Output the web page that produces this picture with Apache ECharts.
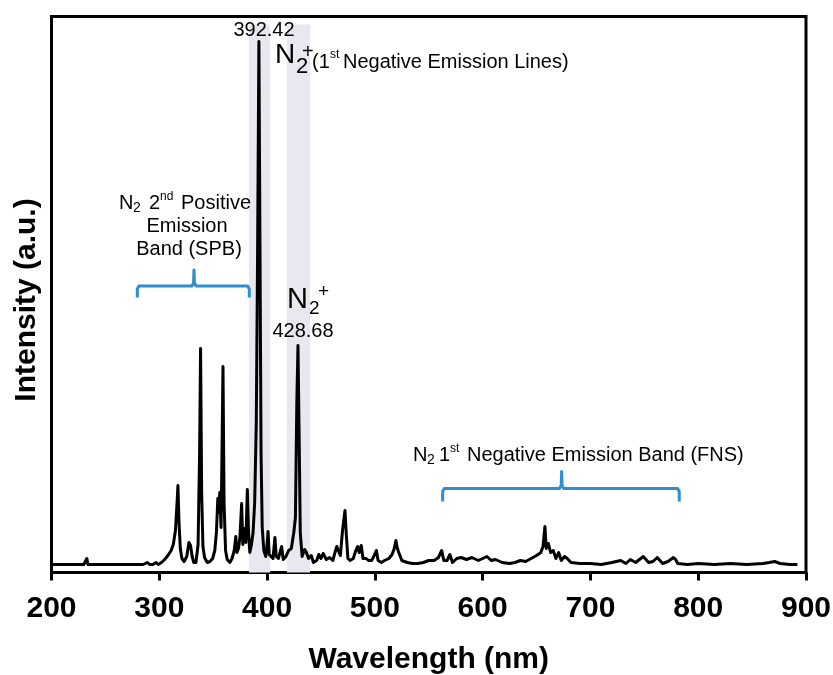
<!DOCTYPE html>
<html>
<head>
<meta charset="utf-8">
<script src="https://cdn.jsdelivr.net/npm/echarts@6/dist/echarts.min.js"></script>
<style>
html,body{margin:0;padding:0;background:#fff;}
#chart{width:833px;height:675px;}
</style>
</head>
<body>
<div id="chart"></div>
<script>
// Wavelength (nm)
var wavelength = [200,215,230,231.8,232.8,233.8,250,270,285,289,291,294,297,299,302,305,308,311,313,315,316.5,317.3,318.3,319.5,321,323,325.5,327.5,329,330.5,332,334,336,337.4,338.3,339.3,340.5,342,344.5,347,349.5,351.5,353,354.3,355.2,356.1,357.3,358.4,359.1,360.1,361.5,363,365.5,367.5,369.5,371,372,373.5,374.8,376.4,377.5,378.5,379.4,380.3,381.7,382.8,384,385.5,387,388.5,390,391.2,392.42,393.4,394.4,395.5,397,398.8,400.2,400.9,402,403.8,405.5,407.3,408.5,410.5,413.5,415,417.5,420,422.5,424.8,426.3,427.6,428.68,429.7,430.8,432.5,434.8,436.5,438.5,441,443,446,448,450,452,455,458,461,463,464.7,466,468,470,472.3,473.5,475,477,480,482,484,485.5,487.4,489,492,494,497,499,501.4,503,506,509,513,516,518,519.5,520.5,521.5,523,525,530,535,540,545,550,555,559,562,564,567,569.6,572,576,580,585,590,596,600,604,608,612,618,625,630,635,640,645,650,654,656,657.8,659,661,663,665.5,668,670.5,673,676,678.5,682,690,700,710,720,728,733,737,742,749,754,758,762,767,772,777,779,781,790,800,815,830,845,860,866,871,876,885,892];
// Intensity (a.u.)
var intensity = [8,8,8,8,14,8,8,8,8,10,8,8,10,8,10,13,17,22,28,42,70,87,50,24,14,11,16,30,27,16,10,10,28,120,224,80,26,15,10,11,14,22,40,74,60,80,45,140,206,70,22,13,10,14,22,36,20,24,35,69,28,38,44,30,83,40,20,28,40,70,150,320,531,330,120,45,22,16,30,41,18,20,14,35,16,14,26,13,16,22,24,40,55,170,227,140,40,16,23,20,14,17,10,12,18,14,19,13,15,12,20,26,22,17,42,62,38,14,12,14,21,26,20,27,14,14,12,12,16,22,12,10,12,14,18,24,32,26,22,20,12,10,9,9,10,12,12,15,22,12,12,18,10,14,15,13,15,12,14,16,12,13,10,9,10,12,11,14,17,20,26,46,24,29,20,22,14,20,12,16,14,10,9,9,8,10,12,9,13,10,16,10,11,15,9,11,15,13,9,8,9,8,9,8,9,10,11,9,8,8];
// x-axis ticks
var xTicks = [200,300,400,500,600,700,800,900];
// shaded emission-line bands (nm)
var bandRanges = [[383.2,402.7],[418.5,439.8]];
// brackets: [left nm, centre nm, right nm, end level, arm level, tip level]
var spbBracket = [279.6,332.2,383.5,275,286.5,302.5];
var fnsBracket = [562.9,673.3,782.4,71,84,101];

function bracketData(b){
  var L=b[0],C=b[1],R=b[2],vb=b[3],vh=b[4],vt=b[5];
  return [[L,vb],[L,vh-3],[L+1.5,vh],[C-2,vh],[C-0.4,vh+3],[C,vt],[C+0.4,vh+3],[C+2,vh],[R-1.5,vh],[R,vh-3],[R,vb]];
}
var spectrum = wavelength.map(function(w,i){return [w,intensity[i]];});
var FF = '"Liberation Sans", Arial, Helvetica, sans-serif';
function T(x,y,s,size,opt){
  opt = opt||{};
  return {type:'text', x:x, y:y, rotation:opt.rot||0, z:100,
    style:{text:s, font:(opt.bold?'bold ':'')+size+'px '+FF, fill:'#000',
      align:opt.align||'left', verticalAlign:'middle'}};
}
var chart = echarts.init(document.getElementById('chart'), null, {renderer:'canvas'});
var option = {
  animation:false,
  backgroundColor:'#fff',
  grid:{left:51.5,right:27,top:16.5,bottom:102.5,containLabel:false,outerBoundsMode:'none',
    show:true,borderColor:'#000',borderWidth:3,backgroundColor:'transparent'},
  xAxis:{type:'value',min:xTicks[0],max:xTicks[xTicks.length-1],interval:100,
    axisLine:{show:true,onZero:false,lineStyle:{color:'#000',width:3}},
    axisTick:{show:true,inside:false,length:8,lineStyle:{color:'#000',width:3}},
    axisLabel:{color:'#000',fontSize:30,fontWeight:'bold',fontFamily:FF,margin:21},
    splitLine:{show:false},
    name:'Wavelength (nm)',nameLocation:'middle',nameGap:72,
    nameTextStyle:{color:'#000',fontSize:30,fontWeight:'bold',fontFamily:FF}},
  yAxis:{type:'value',min:0,max:556,
    axisLine:{show:true,lineStyle:{color:'#000',width:3}},
    axisTick:{show:false},axisLabel:{show:false},splitLine:{show:false}},
  series:[
    {type:'line',data:spectrum,symbol:'none',z:3,
     lineStyle:{color:'#000',width:3,join:'round'},
     markArea:{silent:true,itemStyle:{color:'#e9e7ef'},
       data:bandRanges.map(function(r){return [{xAxis:r[0],yAxis:0},{xAxis:r[1],yAxis:548}];})}},
    {type:'line',data:bracketData(spbBracket),symbol:'none',z:4,
     lineStyle:{color:'#2f8dd0',width:3,join:'round'}},
    {type:'line',data:bracketData(fnsBracket),symbol:'none',z:4,
     lineStyle:{color:'#2f8dd0',width:3,join:'round'}}
  ],
  graphic:[
    T(27,300,'Intensity (a.u.)',30,{bold:true,align:'center',rot:Math.PI/2}),
    // 392.42 label
    T(264,30,'392.42',20,{align:'center'}),
    T(275,55,'N',28),
    T(296,66.5,'2',22),
    T(302,52,'+',20),
    T(312,62,'(1',20),
    T(330,55,'st',12),
    T(343,62,'Negative Emission Lines)',20),
    // SPB label
    T(119,203,'N',20),
    T(133,208,'2',14),
    T(149,203,'2',20),
    T(160,197,'nd',12),
    T(181,203,'Positive',20),
    T(187,226,'Emission',20,{align:'center'}),
    T(189,249,'Band (SPB)',20,{align:'center'}),
    // 428.68 label
    T(287,299.5,'N',29),
    T(309,309,'2',19),
    T(318,292,'+',19),
    T(303,331,'428.68',20,{align:'center'}),
    // FNS label
    T(413,455,'N',20),
    T(427,460,'2',14),
    T(439,455,'1',20),
    T(450,449,'st',12),
    T(467,455,'Negative Emission Band (FNS)',20)
  ]
};
chart.setOption(option);
</script>
</body>
</html>
